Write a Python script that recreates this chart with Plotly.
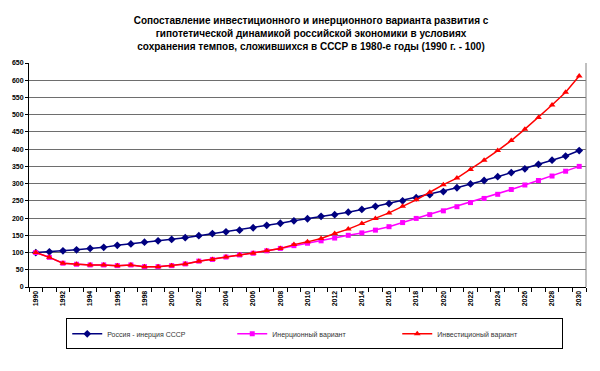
import plotly.graph_objects as go

years = list(range(1990, 2031))

russia_ussr = [100, 102, 105, 108, 112, 115, 121, 125, 130, 134, 138,
               143, 149, 155, 160, 165, 172, 179, 185, 192, 198,
               205, 210, 217, 225, 234, 242, 250, 259, 268, 277,
               288, 299, 309, 320, 332, 343, 356, 368, 380, 396]

inertial = [100, 86, 69, 66, 64, 64, 62, 64, 59, 59, 62,
            67, 75, 80, 87, 93, 98, 105, 112, 120, 127,
            134, 142, 150, 157, 165, 175, 187, 199, 210, 221,
            233, 245, 257, 269, 283, 296, 309, 322, 336, 350]

investment = [100, 86, 69, 66, 64, 64, 62, 64, 59, 59, 62,
              67, 75, 80, 87, 93, 98, 105, 112, 123, 131,
              141, 155, 168, 184, 199, 215, 234, 253, 275, 297,
              316, 341, 368, 396, 425, 458, 492, 528, 565, 612]

names = ["Россия - инерция СССР", "Инерционный вариант", "Инвестиционый вариант"]
title_lines = ["Сопоставление инвестиционного и инерционного варианта развития с",
               "гипотетической динамикой российской экономики в условиях",
               "сохранения темпов, сложившихся в СССР в 1980-е годы (1990 г. - 100)"]

xtick_vals = list(range(1990, 2031, 2))
ytick_vals = list(range(0, 651, 50))

fig = go.Figure()
fig.add_trace(go.Scatter(x=years, y=russia_ussr, name=names[0], mode="lines+markers",
                         line=dict(color="#000080", width=1.5),
                         marker=dict(symbol="diamond", size=6, color="#000080")))
fig.add_trace(go.Scatter(x=years, y=inertial, name=names[1], mode="lines+markers",
                         line=dict(color="#FF00FF", width=1.5),
                         marker=dict(symbol="square", size=5, color="#FF00FF")))
fig.add_trace(go.Scatter(x=years, y=investment, name=names[2], mode="lines+markers",
                         line=dict(color="#FF0000", width=1.5),
                         marker=dict(symbol="triangle-up", size=6, color="#FF0000")))

fig.update_layout(
    width=600, height=371,
    margin=dict(l=21, r=22, t=55, b=92, autoexpand=False),
    paper_bgcolor="white", plot_bgcolor="white",
    font=dict(family="Liberation Sans, Arial", color="black"),
    title=dict(text="<br>".join(title_lines), x=0.505, xanchor="center", y=0.958, yanchor="top",
               font=dict(size=10, family="Liberation Sans, Arial", color="black", weight="bold")),
    showlegend=True,
    legend=dict(orientation="h", x=0.513, xanchor="center", y=-0.14, yanchor="top",
                bordercolor="black", borderwidth=1, entrywidth=120, itemwidth=30,
                font=dict(size=7, color="#333333"), tracegroupgap=0),
)
fig.update_xaxes(range=[1989.5, 2030.5], tickvals=xtick_vals, ticktext=[str(v) for v in xtick_vals],
                 tickangle=-90, ticks="", showgrid=False, zeroline=False,
                 showline=True, linecolor="black", linewidth=1, mirror=False,
                 tickfont=dict(size=7, family="Liberation Sans, Arial", color="black", weight="bold"),
                 minor=dict(tick0=1989.5, dtick=1, ticks="outside", ticklen=4, tickcolor="black", showgrid=False))
fig.update_yaxes(range=[0, 650], tickvals=ytick_vals, ticks="outside", ticklen=3, tickcolor="black",
                 showgrid=True, gridcolor="#6e6e6e", gridwidth=1, zeroline=False,
                 showline=True, linecolor="black", linewidth=1,
                 tickfont=dict(size=7, family="Liberation Sans, Arial", color="black", weight="bold"))
# right border of plot area
fig.add_shape(type="line", xref="paper", yref="paper", x0=1, x1=1, y0=0, y1=1,
              line=dict(color="#808080", width=1))

fig.write_html("out.html")
